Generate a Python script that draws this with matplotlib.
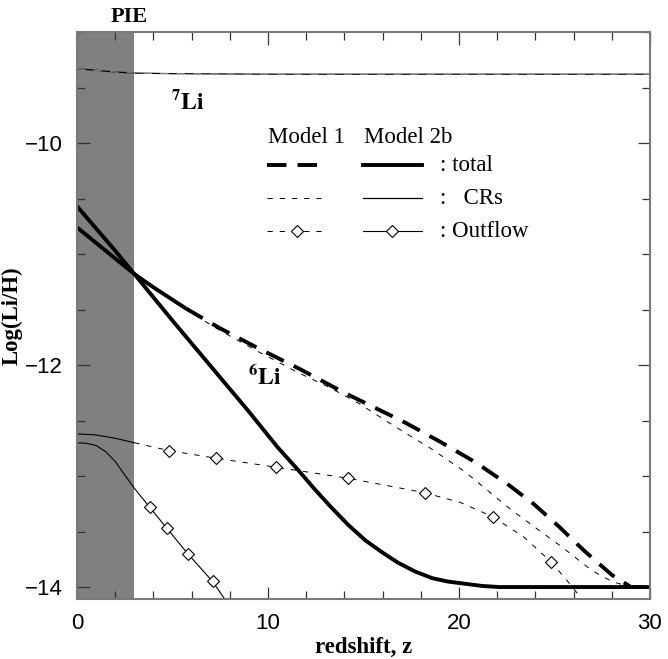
import matplotlib.pyplot as plt
import numpy as np
from matplotlib.ticker import MultipleLocator

plt.rcParams["lines.scale_dashes"] = False
plt.rcParams["mathtext.fontset"] = "stix"

# ---- data ----
li7_z = [0, 1, 2, 3, 5, 10, 20, 30]
li7_y = [-9.33, -9.345, -9.36, -9.37, -9.375, -9.38, -9.38, -9.38]

m1_tot_z = [0, 1, 2, 3, 4, 5.7, 7.5, 9.5, 11.6, 14.0, 17.2, 19.0, 20.9, 22.6, 23.9, 25.2,
            26.6, 28.0, 29.0, 30]
m1_tot_y = [-10.76, -10.9, -11.04, -11.18, -11.30, -11.49, -11.67, -11.85, -12.03, -12.25,
            -12.52, -12.69, -12.88, -13.08, -13.25, -13.45, -13.68, -13.89, -14.0, -14.0]

m1_cr_z = [0, 3, 4, 5.7, 7.5, 9.5, 11.6, 13.2, 14.7, 16.8, 18.6, 20.3, 22.7, 24.2, 25.4,
           26.95, 28.0, 29.0, 30]
m1_cr_y = [-10.76, -11.18, -11.31, -11.50, -11.69, -11.88, -12.07, -12.20, -12.34, -12.57,
           -12.76, -12.96, -13.30, -13.49, -13.64, -13.85, -13.95, -14.0, -14.0]

m1_out_z = [0, 1, 2, 3, 4.8, 7.3, 10.4, 14.2, 18.2, 20.1, 21.8, 23.4, 24.8, 25.6, 26.4]
m1_out_y = [-12.62, -12.63, -12.66, -12.70, -12.77, -12.84, -12.92, -13.02, -13.15, -13.24,
            -13.37, -13.55, -13.77, -13.93, -14.1]
m1_out_marks = [4, 5, 6, 7, 8, 10, 12]

m2_tot_z = [0, 1, 2, 3, 5, 7, 9, 10.5, 11.6, 12.4, 13.3, 14.2, 15.1, 16.0, 16.8, 17.7,
            18.6, 19.4, 20.3, 21.2, 22.1, 25, 30]
m2_tot_y = [-10.57, -10.77, -10.97, -11.18, -11.6, -12.01, -12.42, -12.74, -12.95, -13.11,
            -13.28, -13.44, -13.58, -13.69, -13.78, -13.86, -13.92, -13.95, -13.97, -13.99,
            -14.0, -14.0, -14.0]

m2_out_z = [0, 0.5, 1.0, 1.5, 2.0, 2.5, 3.0, 3.8, 4.7, 5.8, 7.1, 7.7]
m2_out_y = [-12.70, -12.705, -12.725, -12.78, -12.87, -12.99, -13.11, -13.28, -13.47,
            -13.70, -13.95, -14.1]
m2_out_marks = [7, 8, 9, 10]

pie_range = (0, 3)

thick_dash = (0, (14, 8))
thin_dash = (0, (3.8, 5))

fig = plt.figure(figsize=(6.68, 6.59), dpi=100)
ax = fig.add_axes([0.1153, 0.091, 0.8577, 0.8604])

ax.axvspan(*pie_range, color="#808080", lw=0, zorder=0)

# 7Li
ax.plot(li7_z, li7_y, "k-", lw=0.9)
ax.plot(li7_z, li7_y, color="#bbbbbb", ls=(0, (6, 6)), lw=0.5)

# Model 2b
ax.plot(m2_tot_z, m2_tot_y, "k-", lw=2.8)
ax.plot(m2_out_z, m2_out_y, "k-", lw=0.8, marker="D", markevery=m2_out_marks,
        ms=6, mfc="white", mec="k", mew=0.8)

# Model 1 (solid in the early part, dashed later)
k = 5
ax.plot(m1_tot_z[:k + 1], m1_tot_y[:k + 1], "k-", lw=2.8, solid_capstyle="butt")
ax.plot(m1_tot_z[k:], m1_tot_y[k:], "k", ls=thick_dash, lw=2.8)
ax.plot(m1_cr_z, m1_cr_y, "k", ls=thin_dash, lw=0.7)
k = 3
ax.plot(m1_out_z[:k + 1], m1_out_y[:k + 1], "k-", lw=0.8)
ax.plot(m1_out_z[k:], m1_out_y[k:], "k", ls=thin_dash, lw=0.7, marker="D",
        markevery=[i - k for i in m1_out_marks], ms=6, mfc="white", mec="k", mew=0.8)

# hand-made legend table
tf = ax.transAxes
def lx(px):
    return (px - 77) / 573
def ly(py):
    return 1 - (py - 32) / 567

serif = "Liberation Serif"
ax.text(lx(306), ly(137), "Model 1", transform=tf, ha="center", va="center",
        fontsize=16.5, family=serif)
ax.text(lx(408), ly(137), "Model 2b", transform=tf, ha="center", va="center",
        fontsize=16.5, family=serif)
rows = [(165, ": total"), (198, ":   CRs"), (231, ": Outflow")]
m1_styles = [dict(ls=thick_dash, lw=2.8), dict(ls=thin_dash, lw=0.7), dict(ls=thin_dash, lw=0.7)]
m2_styles = [dict(ls="-", lw=2.8), dict(ls="-", lw=0.9), dict(ls="-", lw=0.8)]
for i, (py, lab) in enumerate(rows):
    ax.plot([lx(267), lx(327)], [ly(py)] * 2, color="k", transform=tf, **m1_styles[i])
    ax.plot([lx(363), lx(422)], [ly(py)] * 2, color="k", transform=tf, **m2_styles[i])
    if i == 2:
        ax.plot([lx(297)], [ly(py)], "D", ms=6, mfc="white", mec="k", mew=0.8, transform=tf)
        ax.plot([lx(392)], [ly(py)], "D", ms=6, mfc="white", mec="k", mew=0.8, transform=tf)
    ax.text(lx(440), ly(py), lab, transform=tf, ha="left", va="center",
            fontsize=16.5, family=serif)

ax.text(5.8, -9.63, r"$\mathbf{^{7}Li}$", ha="center", va="center", fontsize=17)
ax.text(9.85, -12.11, r"$\mathbf{^{6}Li}$", ha="center", va="center", fontsize=17)
ax.text(2.75, 1.0 + 15 / 567, "PIE", transform=ax.get_xaxis_transform(), ha="center",
        va="center", fontsize=16, family=serif, weight="bold")

ax.set_xlim(0, 30)
ax.set_ylim(-14.108, -9.0)
ax.xaxis.set_major_locator(MultipleLocator(10))
ax.xaxis.set_minor_locator(MultipleLocator(2))
ax.yaxis.set_major_locator(MultipleLocator(2))
ax.yaxis.set_minor_locator(MultipleLocator(0.5))
ax.tick_params(which="both", direction="in", top=True, right=True, color="#333333",
               labelsize=16, width=0.9)
ax.tick_params(which="major", length=9, pad=10)
ax.tick_params(which="minor", length=6)
for lab in ax.get_xticklabels() + ax.get_yticklabels():
    lab.set_family("Liberation Sans")
for s in ax.spines.values():
    s.set_color("#7a7a7a")
    s.set_linewidth(1.5)

ax.set_xlabel("redshift, z", family=serif, weight="bold", fontsize=16.5, labelpad=2)
ax.set_ylabel("Log(Li/H)", family=serif, weight="bold", fontsize=16.5, labelpad=2)

fig.savefig("out.png", dpi=100)
